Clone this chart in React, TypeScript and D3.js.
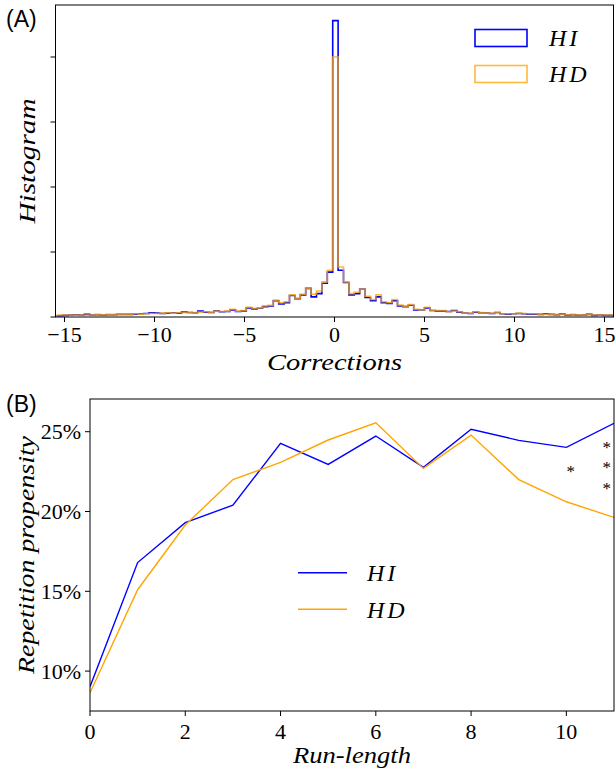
import React from "react";
import * as d3 from "d3";

// ---------- Panel A data (histogram of corrections) ----------
const histBinStart = -15.4;
const histBinWidth = 0.3;
const hdHist = [
  0.03, 0.03, 0.03, 0.03, 0.03, 0.03, 0.03, 0.04, 0.035, 0.04,
  0.04, 0.04, 0.045, 0.04, 0.05, 0.045, 0.05, 0.055, 0.055, 0.06,
  0.065, 0.06, 0.065, 0.07, 0.065, 0.07, 0.075, 0.08, 0.075, 0.09,
  0.085, 0.09, 0.12, 0.09, 0.1, 0.15, 0.13, 0.14, 0.17, 0.18,
  0.26, 0.22, 0.235, 0.34, 0.29, 0.35, 0.44, 0.35, 0.4, 0.54,
  0.72, 4.0, 0.77, 0.54, 0.36, 0.38, 0.43, 0.32, 0.27, 0.34,
  0.235, 0.22, 0.27, 0.185, 0.16, 0.19, 0.12, 0.11, 0.15, 0.1,
  0.1, 0.1, 0.08, 0.09, 0.08, 0.06, 0.06, 0.08, 0.07, 0.06,
  0.06, 0.065, 0.05, 0.05, 0.05, 0.06, 0.055, 0.05, 0.05, 0.045,
  0.04, 0.045, 0.04, 0.04, 0.035, 0.04, 0.035, 0.03, 0.035, 0.03,
  0.03, 0.03, 0.03,
].map((v) => v / 10);
const hiHist = [
  0.02, 0.025, 0.03, 0.035, 0.03, 0.04, 0.03, 0.035, 0.03, 0.035,
  0.035, 0.04, 0.04, 0.04, 0.045, 0.05, 0.055, 0.065, 0.06, 0.055,
  0.06, 0.065, 0.06, 0.075, 0.07, 0.065, 0.09, 0.075, 0.07, 0.095,
  0.08, 0.085, 0.11, 0.085, 0.095, 0.14, 0.125, 0.135, 0.16, 0.17,
  0.25, 0.2, 0.22, 0.33, 0.28, 0.34, 0.44, 0.31, 0.36, 0.52,
  0.69, 4.56, 0.72, 0.53, 0.34, 0.36, 0.43, 0.3, 0.25, 0.31,
  0.22, 0.21, 0.25, 0.17, 0.16, 0.18, 0.11, 0.11, 0.14, 0.1,
  0.095, 0.095, 0.085, 0.1, 0.075, 0.06, 0.055, 0.075, 0.065, 0.06,
  0.055, 0.07, 0.05, 0.045, 0.05, 0.055, 0.05, 0.045, 0.045, 0.04,
  0.05, 0.04, 0.035, 0.045, 0.03, 0.035, 0.03, 0.03, 0.04, 0.025,
  0.03, 0.025, 0.025,
].map((v) => v / 10);
const histXTicks = [-15, -10, -5, 0, 5, 10, 15];
const histYTicks = [0, 0.1, 0.2, 0.3, 0.4];
const histXDomain = [-15.5, 15.5];
const histYDomain = [0, 0.48];

// ---------- Panel B data (repetition propensity) ----------
const runLengths = [0, 1, 2, 3, 4, 5, 6, 7, 8, 9, 10, 11];
const hiProp = [9.02, 16.8, 19.3, 20.4, 24.27, 22.95, 24.73, 22.77, 25.15, 24.46, 24.02, 25.53];
const hdProp = [8.64, 15.1, 19.15, 22.0, 23.08, 24.48, 25.56, 22.7, 24.79, 22.0, 20.61, 19.63];
const propXTicks = [0, 2, 4, 6, 8, 10];
const propYTicks = [10, 15, 20, 25];
const propXDomain = [0, 11];
const propYDomain = [7.5, 27.05];
const starX = [10.09, 10.85, 10.85, 10.85];
const starY = [22.64, 24.17, 22.9, 21.6];

const BLUE = "#0000ff";
const ORANGE = "#ffa500";
const SERIF = "Liberation Serif, Times New Roman, DejaVu Serif, serif";
const SANS = "Liberation Sans, Arial, DejaVu Sans, sans-serif";

function stepPath(values: number[], x: d3.ScaleLinear<number, number>, y: d3.ScaleLinear<number, number>) {
  const pts: [number, number][] = [];
  pts.push([x(histBinStart), y(0)]);
  values.forEach((v, i) => {
    const a = histBinStart + i * histBinWidth;
    const b = a + histBinWidth;
    pts.push([x(a), y(v)]);
    pts.push([x(b), y(v)]);
  });
  const eN = histBinStart + values.length * histBinWidth;
  pts.push([x(eN), y(0)]);
  return d3.line()(pts) || "";
}

const serif = (size: number, italic = false): React.CSSProperties => ({
  fontFamily: SERIF,
  fontSize: size,
  fontStyle: italic ? "italic" : "normal",
});

export default function App() {
  const W = 615;
  const H = 775;
  // Panel A
  const aL = 55.5, aR = 613.5, aT = 5, aB = 317;
  const xA = d3.scaleLinear().domain(histXDomain).range([aL, aR]);
  const yA = d3.scaleLinear().domain(histYDomain).range([aB, aT]);
  // Panel B
  const bL = 90, bR = 614, bT = 399, bB = 711;
  const xB = d3.scaleLinear().domain(propXDomain).range([bL, bR]);
  const yB = d3.scaleLinear().domain(propYDomain).range([bB, bT]);
  const line = d3
    .line<number>()
    .x((_, i) => xB(runLengths[i]))
    .y((d) => yB(d));

  const fmtTick = (t: number) => (t < 0 ? "\u2212" + Math.abs(t) : String(t));

  return (
    <svg width={W} height={H} style={{ position: "absolute", left: 0, top: 0, background: "#fff" }}>
      <rect x={0} y={0} width={W} height={H} fill="#fff" />
      <defs>
        <clipPath id="clipA">
          <rect x={aL} y={aT} width={aR - aL} height={aB - aT} />
        </clipPath>
        <clipPath id="clipB">
          <rect x={bL} y={bT} width={bR - bL} height={bB - bT} />
        </clipPath>
      </defs>
      {/* ---------- Panel A ---------- */}
      <text x={6} y={27} style={{ fontFamily: SANS, fontSize: 23 }} fill="#000">(A)</text>
      <g clipPath="url(#clipA)">
        <path d={stepPath(hiHist, xA, yA)} fill="none" stroke={BLUE} strokeWidth={1.6} />
        <path d={stepPath(hdHist, xA, yA)} fill="none" stroke={ORANGE} strokeOpacity={0.78} strokeWidth={1.6} />
      </g>
      <rect x={aL} y={aT} width={aR - aL} height={aB - aT} fill="none" stroke="#000" strokeWidth={1} />
      {histXTicks.map((t) => (
        <g key={"ax" + t}>
          <line x1={xA(t)} x2={xA(t)} y1={aB} y2={aB + 5} stroke="#000" strokeWidth={1} />
          <text x={xA(t)} y={342} textAnchor="middle" style={serif(22)} fill="#000">
            {fmtTick(t)}
          </text>
        </g>
      ))}
      {histYTicks.map((t) => (
        <line key={"ay" + t} x1={aL - 5} x2={aL} y1={yA(t)} y2={yA(t)} stroke="#000" strokeWidth={1} />
      ))}
      <text x={(aL + aR) / 2} y={370} textAnchor="middle" style={serif(24, true)}
        textLength={135} lengthAdjust="spacingAndGlyphs" fill="#000">Corrections</text>
      <text transform={`translate(35,${(aT + aB) / 2}) rotate(-90)`} textAnchor="middle" style={serif(24, true)}
        textLength={125} lengthAdjust="spacingAndGlyphs" fill="#000">Histogram</text>
      {/* legend A */}
      <rect x={475} y={29.5} width={52} height={17} fill="#fff" stroke={BLUE} strokeWidth={1.6} />
      <rect x={475} y={65.5} width={52} height={17} fill="#fff" stroke={ORANGE} strokeOpacity={0.78} strokeWidth={1.6} />
      <text x={549} y={46} style={serif(24, true)} letterSpacing={3} fill="#000">HI</text>
      <text x={549} y={82} style={serif(24, true)} letterSpacing={3} fill="#000">HD</text>

      {/* ---------- Panel B ---------- */}
      <text x={6} y={412} style={{ fontFamily: SANS, fontSize: 23 }} fill="#000">(B)</text>
      <g clipPath="url(#clipB)">
        <path d={line(hiProp) || ""} fill="none" stroke={BLUE} strokeWidth={1.4} />
        <path d={line(hdProp) || ""} fill="none" stroke={ORANGE} strokeWidth={1.4} />
      </g>
      {starX.map((sx, i) => (
        <text key={"s" + i} x={xB(sx)} y={yB(starY[i]) + 8} textAnchor="middle" style={serif(17)} fill="#000">*</text>
      ))}
      <rect x={bL} y={bT} width={bR - bL} height={bB - bT} fill="none" stroke="#000" strokeWidth={1} />
      {propXTicks.map((t) => (
        <g key={"bx" + t}>
          <line x1={xB(t)} x2={xB(t)} y1={bB} y2={bB + 5} stroke="#000" strokeWidth={1} />
          <text x={xB(t)} y={739} textAnchor="middle" style={serif(22)} fill="#000">{t}</text>
        </g>
      ))}
      {propYTicks.map((t) => (
        <g key={"by" + t}>
          <line x1={bL - 5} x2={bL} y1={yB(t)} y2={yB(t)} stroke="#000" strokeWidth={1} />
          <text x={bL - 9} y={yB(t) + 7.5} textAnchor="end" style={serif(22)} fill="#000">{t}%</text>
        </g>
      ))}
      <text x={(bL + bR) / 2} y={763} textAnchor="middle" style={serif(24, true)}
        textLength={118} lengthAdjust="spacingAndGlyphs" fill="#000">Run-length</text>
      <text transform={`translate(34,${(bT + bB) / 2}) rotate(-90)`} textAnchor="middle" style={serif(24, true)}
        textLength={238} lengthAdjust="spacingAndGlyphs" fill="#000">Repetition propensity</text>
      {/* legend B */}
      <line x1={298} x2={347} y1={572.7} y2={572.7} stroke={BLUE} strokeWidth={1.4} />
      <line x1={298} x2={347} y1={609.3} y2={609.3} stroke={ORANGE} strokeWidth={1.4} />
      <text x={367} y={581} style={serif(24, true)} letterSpacing={3} fill="#000">HI</text>
      <text x={367} y={617.5} style={serif(24, true)} letterSpacing={3} fill="#000">HD</text>
    </svg>
  );
}
